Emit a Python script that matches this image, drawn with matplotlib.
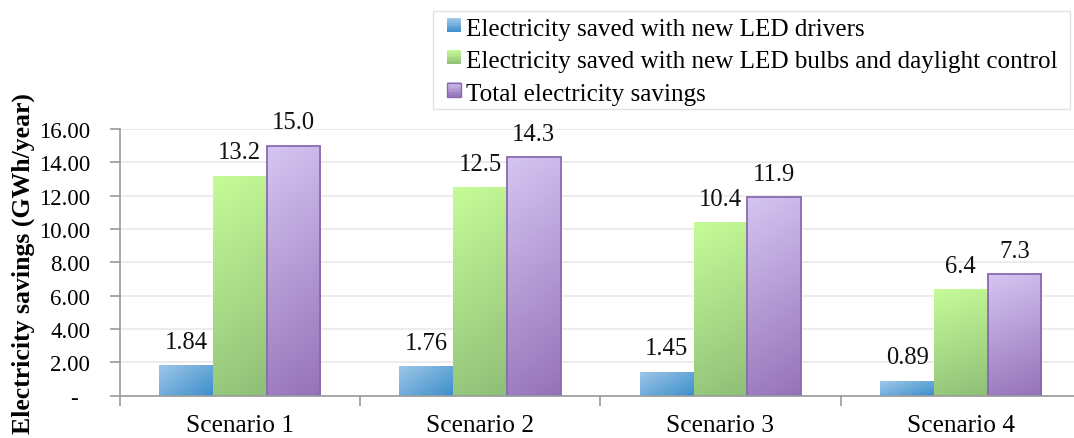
import numpy as np
import matplotlib
matplotlib.use("Agg")
import matplotlib.pyplot as plt
from matplotlib.colors import LinearSegmentedColormap
from matplotlib.patches import Patch, Rectangle
from matplotlib.legend_handler import HandlerPatch

categories = ["Scenario 1", "Scenario 2", "Scenario 3", "Scenario 4"]
drivers = [1.84, 1.76, 1.45, 0.89]
bulbs = [13.2, 12.5, 10.4, 6.4]
total = [15.0, 14.3, 11.9, 7.3]
driver_labels = ["1.84", "1.76", "1.45", "0.89"]
bulb_labels = ["13.2", "12.5", "10.4", "6.4"]
total_labels = ["15.0", "14.3", "11.9", "7.3"]
series_names = ["Electricity saved with new LED drivers",
                "Electricity saved with new LED bulbs and daylight control",
                "Total electricity savings"]
yticks = [0, 2, 4, 6, 8, 10, 12, 14, 16]
ytick_labels = ["-  ", "2.00", "4.00", "6.00", "8.00", "10.00", "12.00", "14.00", "16.00"]

FONT = "Liberation Serif"
plt.rcParams['font.family'] = [FONT, 'DejaVu Serif']

# gradient specs: (light color, dark color, diagonal)
grads = [("#a9cdeb", "#3d8fcc", True),
         ("#c6fb98", "#8fbf78", False),
         ("#d5c5f2", "#9572b8", False)]
edges = [None, None, "#8a6aae"]

W, H = 1074, 439
fig = plt.figure(figsize=(W/100, H/100), dpi=100)
ax = fig.add_axes([119.5/W, 42.3/H, (1081-119.5)/W, (309-42.3)/H])

x = np.arange(len(categories))
w = 0.2235
offsets = [-w, 0, w]
data = [drivers, bulbs, total]
labels = [driver_labels, bulb_labels, total_labels]

def gradient_img(c1, c2, diag):
    cmap = LinearSegmentedColormap.from_list("g", [c1, c2])
    n = 64
    yy, xx = np.mgrid[0:1:n*1j, 0:1:n*1j]
    if diag:
        t = 0.1 + 0.9*(0.55*xx + 0.45*yy)
    else:
        t = 0.85 * yy + 0.15 * xx
    return cmap(t)

for i, (vals, off) in enumerate(zip(data, offsets)):
    c1, c2, diag = grads[i]
    bars = ax.bar(x + off, vals, width=w, color=c2, zorder=2,
                  edgecolor="none", linewidth=0)
    for b in bars:
        x0, y0 = b.get_x(), b.get_y()
        bw, bh = b.get_width(), b.get_height()
        img = gradient_img(c1, c2, diag)
        im = ax.imshow(img, extent=[x0, x0 + bw, y0, y0 + bh], origin="upper",
                       aspect="auto", zorder=2.1, interpolation="bilinear")
        im.set_clip_path(b)
        if edges[i]:
            ax.add_patch(Rectangle((x0, y0), bw, bh, fill=False,
                                   edgecolor=edges[i], linewidth=1.3, zorder=2.2))
    for xi, v, lab in zip(x + off, vals, labels[i]):
        ax.text(xi, v + 1.05, lab, ha="center", va="baseline", fontsize=17.7,
                color="#111111", zorder=3)

ax.set_xlim(-0.5, 3.5)
ax.set_ylim(0, 16)
ax.set_yticks(yticks)
ax.set_yticklabels(ytick_labels, fontsize=16.5)
ax.set_xticks(x)
ax.set_xticklabels(categories, fontsize=18.3)
ax.set_xticks(np.arange(-0.5, 4.0, 1.0), minor=True)
ax.tick_params(axis="x", which="major", length=0, pad=13)
ax.tick_params(axis="x", which="minor", length=7, color="#9a9a9a", width=1.2)
ax.tick_params(axis="y", length=7, color="#9a9a9a", width=1.2, pad=14)
ax.yaxis.grid(True, color="#ebebeb", linewidth=1.3, zorder=0)
ax.set_axisbelow(True)
for s in ["top", "right"]:
    ax.spines[s].set_visible(False)
for s in ["left", "bottom"]:
    ax.spines[s].set_color("#9a9a9a")
    ax.spines[s].set_linewidth(1.2)
ax.set_ylabel("Electricity savings (GWh/year)", fontsize=18.5, fontweight="bold",
              labelpad=3)

class GradHandler(HandlerPatch):
    def __init__(self, c1, c2, diag, edge):
        super().__init__()
        self.c1, self.c2, self.diag, self.edge = c1, c2, diag, edge
    def create_artists(self, legend, orig_handle, xdescent, ydescent, width,
                       height, fontsize, trans):
        s = width
        x0 = -xdescent
        y0 = -ydescent + (height - s) / 2 + 0.08 * s
        arts = []
        n = 10
        cmap = LinearSegmentedColormap.from_list("g", [self.c1, self.c2])
        for k in range(n):
            r = Rectangle((x0, y0 + s * (n - 1 - k) / n), s, s / n + 0.3,
                          facecolor=cmap((k + 0.5) / n), edgecolor="none",
                          transform=trans)
            arts.append(r)
        if self.edge:
            arts.append(Rectangle((x0, y0), s, s, fill=False, edgecolor=self.edge,
                                  linewidth=1.0, transform=trans))
        return arts

# legend frame drawn separately for exact placement
fig.patches.append(Rectangle((433/W, 1 - 110/H), (1070-433)/W, 98/H,
                             transform=fig.transFigure, facecolor="white",
                             edgecolor="#e2e2e2", linewidth=1.0, zorder=0))

handles = [Patch(facecolor=g[1]) for g in grads]
hmap = {h: GradHandler(g[0], g[1], g[2], e) for h, g, e in zip(handles, grads, edges)}
leg = fig.legend(handles, series_names, loc="upper left",
                 bbox_to_anchor=(447/W, 1 - 19/H), fontsize=18.1,
                 frameon=False, handler_map=hmap,
                 handlelength=0.55, handleheight=0.55, handletextpad=0.2,
                 labelspacing=0.41, borderpad=0, borderaxespad=0)

fig.savefig("out.png", dpi=100)
